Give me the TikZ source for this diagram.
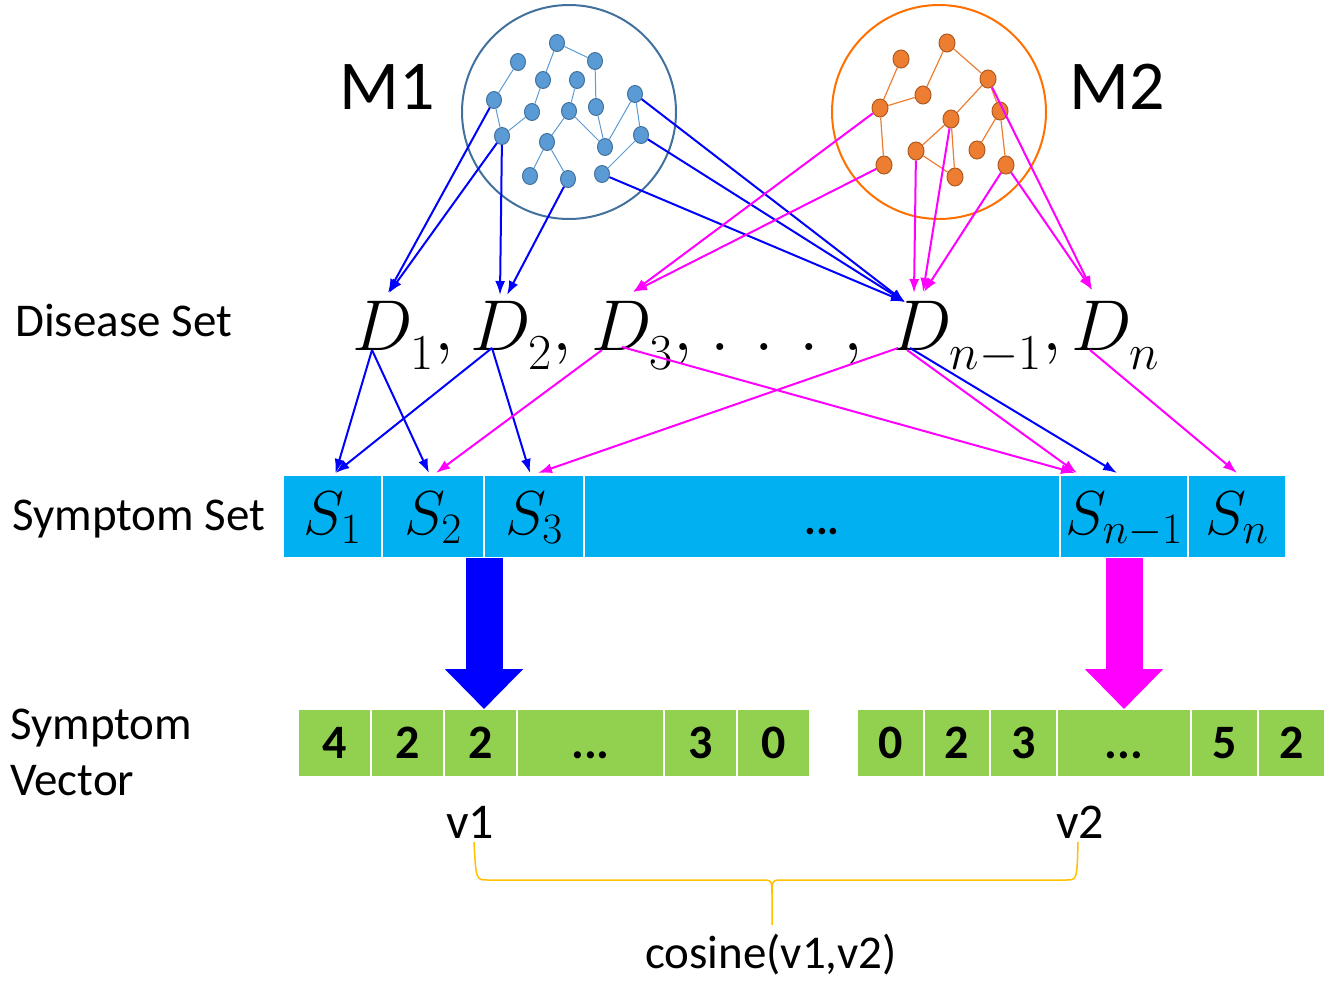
\RequirePackage{fix-cm}
\documentclass[tikz,border=0pt]{standalone}
\usepackage[no-math]{fontspec}
\setmainfont{Carlito}
\usetikzlibrary{arrows.meta,shapes.geometric,calc}

\definecolor{cellblue}{RGB}{0,176,240}
\definecolor{cellgreen}{RGB}{146,208,80}
\definecolor{dotblue}{RGB}{91,155,213}
\definecolor{dotblueline}{RGB}{65,113,156}
\definecolor{dotorange}{RGB}{237,125,49}
\definecolor{dotorangeline}{RGB}{174,90,33}
\definecolor{ringorange}{RGB}{255,112,0}
\definecolor{bracegold}{RGB}{255,192,0}
\definecolor{linkblue}{RGB}{0,0,255}
\definecolor{linkpink}{RGB}{255,0,255}

% lowered subscript for the disease names
\newcommand{\dsub}[1]{_{\raisebox{-9pt}{$\scriptstyle #1$}}}

\begin{document}
\begin{tikzpicture}[
    x=1pt, y=-1pt,
    lbl/.style={font=\fontsize{47}{56}\selectfont, inner sep=0},
    ring/.style={circle, line width=2pt, minimum size=214pt, inner sep=0},
    bdot/.style={ellipse, draw=dotblueline, fill=dotblue, line width=1pt, minimum width=15pt, minimum height=17pt, inner sep=0},
    odot/.style={ellipse, draw=dotorangeline, fill=dotorange, line width=1pt, minimum width=16pt, minimum height=18pt, inner sep=0},
    bedge/.style={dotblue, line width=1pt},
    oedge/.style={dotorange, line width=1.2pt},
    dis/.style={font=\fontsize{72}{72}\selectfont, inner sep=0, anchor=base west},
    scell/.style={draw=white, line width=2.5pt, fill=cellblue, inner sep=0, outer sep=0, minimum height=83pt, text height=44pt, text depth=8pt, font=\fontsize{62}{62}\selectfont},
    vcell/.style={draw=white, line width=2pt, fill=cellgreen, inner sep=0, outer sep=0, minimum height=68pt, text height=31pt, text depth=0pt, font=\fontsize{48}{48}\selectfont\bfseries},
    blink/.style={-{Latex[length=14pt, width=10pt]}, line width=2pt, linkblue},
    mlink/.style={-{Latex[length=14pt, width=10pt]}, line width=2pt, linkpink},
    bigarrow/.style={line width=37pt, -{Triangle[length=40pt 0 0, width=76pt 0 0]}},
    brace/.style={bracegold, line width=1.5pt}
]
\useasboundingbox (0,0) rectangle (1328,980);

% the two models
\node[ring, draw=dotblueline] (ringA) at (569,112) {};
\node[ring, draw=ringorange] (ringB) at (939,112) {};
\node[lbl, font=\fontsize{70}{70}\selectfont] (mone) at (387,87) {M1};
\node[lbl, font=\fontsize{70}{70}\selectfont] (mtwo) at (1117,87) {M2};

\node[bdot] (b1) at (557,43) {};  \node[bdot] (b2) at (595,61) {};  \node[bdot] (b3) at (518,62) {};
\node[bdot] (b4) at (543,80) {};  \node[bdot] (b5) at (577,80) {};  \node[bdot] (b6) at (635,94) {};
\node[bdot] (b7) at (494,100) {}; \node[bdot] (b8) at (532,112) {}; \node[bdot] (b9) at (569,111) {};
\node[bdot] (b10) at (596,107) {}; \node[bdot] (b11) at (502,136) {}; \node[bdot] (b12) at (641,135) {};
\node[bdot] (b13) at (547,142) {}; \node[bdot] (b14) at (605,147) {}; \node[bdot] (b15) at (530,176) {};
\node[bdot] (b16) at (568,179) {}; \node[bdot] (b17) at (602,174) {};

\draw[bedge] (b1) -- (b2);  \draw[bedge] (b1) -- (b4);  \draw[bedge] (b4) -- (b8);
\draw[bedge] (b8) -- (b11); \draw[bedge] (b11) -- (b7); \draw[bedge] (b7) -- (b3);
\draw[bedge] (b5) -- (b9);  \draw[bedge] (b9) -- (b13); \draw[bedge] (b13) -- (b15);
\draw[bedge] (b13) -- (b16); \draw[bedge] (b9) -- (b14); \draw[bedge] (b2) -- (b10);
\draw[bedge] (b10) -- (b14); \draw[bedge] (b14) -- (b6); \draw[bedge] (b6) -- (b12);
\draw[bedge] (b12) -- (b17);

\node[odot] (o1) at (947,43) {};  \node[odot] (o2) at (901,59) {};  \node[odot] (o3) at (988,79) {};
\node[odot] (o4) at (923,95) {};  \node[odot] (o5) at (880,108) {}; \node[odot] (o6) at (1000,111) {};
\node[odot] (o7) at (951,119) {}; \node[odot] (o8) at (916,151) {}; \node[odot] (o9) at (977,150) {};
\node[odot] (o10) at (884,165) {}; \node[odot] (o11) at (1006,165) {}; \node[odot] (o12) at (955,177) {};

\draw[oedge] (o1) -- (o3); \draw[oedge] (o1) -- (o4); \draw[oedge] (o4) -- (o5);
\draw[oedge] (o5) -- (o2); \draw[oedge] (o5) -- (o10); \draw[oedge] (o3) -- (o7);
\draw[oedge] (o3) -- (o6); \draw[oedge] (o6) -- (o9); \draw[oedge] (o6) -- (o11);
\draw[oedge] (o7) -- (o8); \draw[oedge] (o7) -- (o12); \draw[oedge] (o8) -- (o12);

% disease set
\node[lbl, anchor=west] (disease) at (15,320) {Disease Set};
\node[dis] (D1) at (352,350) {$D\dsub{1},$};
\node[dis] (D2) at (470,350) {$D\dsub{2},$};
\node[dis] (D3) at (591,350) {$D\dsub{3},$};
\node[dis] (Ddots) at (710,350) {$.\hskip25pt.\hskip25pt.\hskip25pt,$};
\node[dis] (Dn1) at (891,350) {$D\dsub{n-1},$};
\node[dis] (Dn) at (1071,350) {$D\dsub{n}$};

% symptom set
\node[lbl, anchor=base west] (symset) at (12,530) {Symptom Set};
\node[scell, minimum width=99pt] (s1) at (332.5,516.5) {$S_1$};
\node[scell, minimum width=102pt] (s2) at (433,516.5) {$S_2$};
\node[scell, minimum width=100pt] (s3) at (534,516.5) {$S_3$};
\node[scell, minimum width=476pt, font=\fontsize{44}{44}\selectfont\bfseries] (sdots) at (822,516.5) {...};
\node[scell, minimum width=128pt] (sn1) at (1124,516.5) {$S_{n-1}$};
\node[scell, minimum width=98pt] (sn) at (1237,516.5) {$S_n$};

% models to diseases
\draw[blink] (b7) -- ($(D1.base west)+(36,-57)$);
\draw[blink] (b11) -- ($(D1.base west)+(37,-57)$);
\draw[blink] (b11) -- ($(D2.base west)+(30,-55)$);
\draw[blink] (b16) -- ($(D2.base west)+(37,-55)$);
\draw[blink] (b6) -- ($(Dn1.base west)+(14,-48)$);
\draw[blink] (b12) -- ($(Dn1.base west)+(14,-48)$);
\draw[blink] (b17) -- ($(Dn1.base west)+(14,-48)$);
\draw[mlink] (o5) -- ($(D3.base west)+(42,-58)$);
\draw[mlink] (o10) -- ($(D3.base west)+(42,-58)$);
\draw[mlink] (o8) -- ($(Dn1.base west)+(23,-57)$);
\draw[mlink] (o7) -- ($(Dn1.base west)+(32,-58)$);
\draw[mlink] (o11) -- ($(Dn1.base west)+(33,-58)$);
\draw[mlink] (o11) -- ($(Dn.base west)+(21,-60)$);
\draw[mlink] (o3) -- ($(Dn.base west)+(21,-60)$);

% diseases to symptoms
\draw[blink] ($(D1.base west)+(20,0)$) -- ($(s1.north)+(3,-2)$);
\draw[blink] ($(D1.base west)+(20,0)$) -- ($(s2.north)+(-4,-2)$);
\draw[blink] ($(D2.base west)+(22,-2)$) -- ($(s1.north)+(3,-2)$);
\draw[blink] ($(D2.base west)+(22,-2)$) -- ($(s3.north)+(-4,-2)$);
\draw[mlink] ($(D3.base west)+(11,0)$) -- ($(s2.north)+(3,-2)$);
\draw[mlink] ($(D3.base west)+(31,-3)$) -- ($(sn1.north)+(-49,-2)$);
\draw[mlink] ($(Dn1.base west)+(7,-2)$) -- ($(s3.north)+(4,-2)$);
\draw[mlink] ($(Dn1.base west)+(16,0)$) -- ($(sn1.north)+(-47,-2)$);
\draw[blink] ($(Dn1.base west)+(19,-2)$) -- ($(sn1.north)+(-7,-2)$);
\draw[mlink] ($(Dn.base west)+(19,0)$) -- ($(sn.north)+(0,-2)$);

% symptom vectors
\node[lbl, anchor=west, align=left] (symvec) at (10,752) {Symptom\\Vector};
\node[vcell, minimum width=73pt] (x1) at (334.5,743) {4};
\node[vcell, minimum width=73pt] (x2) at (407.5,743) {2};
\node[vcell, minimum width=73pt] (x3) at (480.5,743) {2};
\node[vcell, minimum width=147pt] (x4) at (590.5,743) {...};
\node[vcell, minimum width=73pt] (x5) at (700.5,743) {3};
\node[vcell, minimum width=73pt] (x6) at (773.5,743) {0};

\node[vcell, minimum width=66.5pt] (y1) at (890.25,743) {0};
\node[vcell, minimum width=66.5pt] (y2) at (956.75,743) {2};
\node[vcell, minimum width=67pt] (y3) at (1023.5,743) {3};
\node[vcell, minimum width=134pt] (y4) at (1124,743) {...};
\node[vcell, minimum width=67pt] (y5) at (1224.5,743) {5};
\node[vcell, minimum width=67pt] (y6) at (1291.5,743) {2};

\draw[bigarrow, linkblue] (s2.south east) -- (s2.south east |- x3.north);
\draw[bigarrow, linkpink] (sn1.south) -- (sn1.south |- y4.north);

% similarity
\node[lbl, anchor=base, font=\fontsize{50}{50}\selectfont] (vone) at (470,838) {v1};
\node[lbl, anchor=base, font=\fontsize{50}{50}\selectfont] (vtwo) at (1080,838) {v2};
\node[lbl, anchor=base] (cosine) at (771,968) {cosine(v1,v2)};
\coordinate (tip) at (772,925);

\draw[brace] ($(vone.south)+(4,4)$) .. controls (476,880) .. (488,880) -- (760,880)
    .. controls (772,880) .. (772,894) -- (tip);
\draw[brace] ($(vtwo.south)+(-2,4)$) .. controls (1077,880) .. (1066,880) -- (784,880)
    .. controls (772,880) .. (772,894);
\end{tikzpicture}
\end{document}
